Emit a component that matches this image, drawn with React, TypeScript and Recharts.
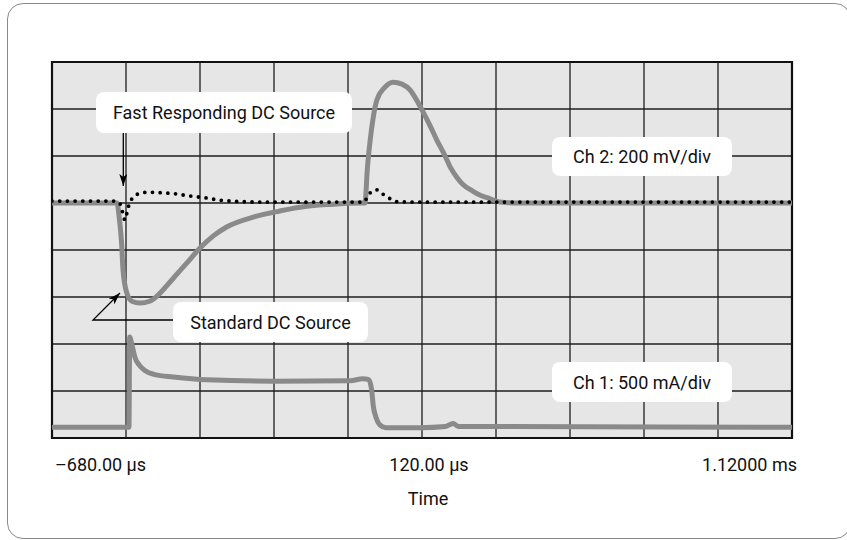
import React from 'react';
import { LineChart, Line, XAxis, YAxis, CartesianGrid, ReferenceArea } from 'recharts';

const FONT = 'Roboto, "Liberation Sans", Arial, sans-serif';

// scope screen: 10 time divisions, 8 amplitude divisions
const X_MAX = 10;
const Y_MAX = 8;
const xDivs = [0, 1, 2, 3, 4, 5, 6, 7, 8, 9, 10];
const yDivs = [0, 1, 2, 3, 4, 5, 6, 7, 8];
const xTickLabels: Record<number, string> = { 0: '–680.00 µs', 5: '120.00 µs', 10: '1.12000 ms' };

// Ch 2, standard DC source (output voltage)
const standardTime = [0, 0.88, 0.905, 0.94, 0.96, 1.01, 1.08, 1.19, 1.32, 1.39, 1.64, 1.82, 2.0, 2.18, 2.36, 2.72, 3.08, 3.35, 3.76, 4.19,
  4.23, 4.26, 4.3, 4.34, 4.39, 4.49, 4.61, 4.73, 4.84, 4.92, 5.0, 5.11, 5.2, 5.3, 5.38, 5.47, 5.55, 5.68, 5.78, 5.92, 6.05, 6.32, 10];
const standardLevel = [5.0, 5.0, 4.74, 4.15, 3.57, 3.09, 2.91, 2.87, 2.91, 2.98, 3.4, 3.72, 4.04, 4.3, 4.49, 4.7, 4.83, 4.91, 4.97, 5.0,
  5.0, 5.7, 6.34, 6.81, 7.19, 7.45, 7.57, 7.53, 7.4, 7.21, 6.98, 6.64, 6.34, 6.04, 5.77, 5.55, 5.4, 5.26, 5.17, 5.09, 5.02, 5.0, 5.0];

// Ch 2, fast responding DC source (output voltage)
const fastTime = [0, 0.85, 0.92, 0.95, 0.97, 0.99, 1.01, 1.04, 1.09, 1.16, 1.3, 1.46, 1.64, 1.86, 2.07, 2.27, 2.54, 2.81,
  4.22, 4.26, 4.31, 4.39, 4.47, 4.57, 4.66, 4.84, 10];
const fastLevel = [5.04, 5.04, 4.98, 4.83, 4.68, 4.64, 4.77, 4.96, 5.11, 5.19, 5.23, 5.22, 5.2, 5.15, 5.11, 5.06, 5.03, 5.02,
  5.02, 5.13, 5.23, 5.28, 5.19, 5.09, 5.03, 5.02, 5.02];

// Ch 1, load current
const currentTime = [0, 1.04, 1.05, 1.08, 1.12, 1.18, 1.26, 1.39, 1.64, 2.09, 2.99, 4.03, 4.2, 4.28, 4.32, 4.34, 4.38, 4.43, 4.51,
  4.97, 5.32, 5.42, 5.49, 10];
const currentLevel = [0.23, 0.23, 2.15, 1.98, 1.72, 1.55, 1.43, 1.35, 1.3, 1.24, 1.21, 1.22, 1.26, 1.24, 1.02, 0.7, 0.43, 0.28, 0.22,
  0.22, 0.245, 0.31, 0.245, 0.23];

const toPoints = (xs: number[], ys: number[]) => xs.map((x, i) => ({ x, y: ys[i] }));

const standardData = toPoints(standardTime, standardLevel);
const fastData = toPoints(fastTime, fastLevel);
const currentData = toPoints(currentTime, currentLevel);

const TimeTick = (props: any) => {
  const { x, y, payload } = props;
  const label = xTickLabels[payload.value];
  if (!label) return null;
  const anchor = payload.value === 0 ? 'start' : payload.value === 10 ? 'end' : 'middle';
  const dx = payload.value === 0 ? 3 : payload.value === 10 ? 5 : 7;
  return (
    <text x={x + dx} y={y} dy={33} textAnchor={anchor} fontFamily={FONT} fontSize={18} fill="#111">
      {label}
    </text>
  );
};

const Callout = ({ x, y, w, h, text }: { x: number; y: number; w: number; h: number; text: string }) => (
  <g>
    <rect x={x} y={y} width={w} height={h} rx={8} fill="#fff" />
    <text x={x + w / 2} y={y + h / 2 + 6.5} textAnchor="middle" fontFamily={FONT} fontSize={18} fill="#111">
      {text}
    </text>
  </g>
);

export default function App() {
  return (
    <div style={{ position: 'absolute', left: 0, top: 0, width: 847, height: 540, background: '#fff', overflow: 'hidden' }}>
      <div style={{
        position: 'absolute', left: 7, top: 3, width: 842, height: 534,
        border: '1.5px solid #8a8a8a', borderRadius: 16,
      }} />
      <div style={{ position: 'absolute', left: 0, top: 0 }}>
        <LineChart width={847} height={540} margin={{ top: 62, right: 55, bottom: 32, left: 52 }}>
          <CartesianGrid
            fill="#e6e6e6"
            fillOpacity={1}
            stroke="#1e1e1e"
            strokeWidth={1.3}
            verticalCoordinatesGenerator={({ offset }: any) =>
              xDivs.map((v) => offset.left + (offset.width * v) / X_MAX)}
            horizontalCoordinatesGenerator={({ offset }: any) =>
              yDivs.map((v) => offset.top + offset.height * (1 - v / Y_MAX))}
          />
          <XAxis
            dataKey="x"
            type="number"
            domain={[0, X_MAX]}
            ticks={xDivs}
            allowDataOverflow
            axisLine={false}
            tickLine={false}
            tickSize={0}
            tickMargin={0}
            height={70}
            interval={0}
            tick={<TimeTick />}
          />
          <YAxis type="number" domain={[0, Y_MAX]} ticks={yDivs} width={0} axisLine={false} tickLine={false} tick={false} />
          <ReferenceArea x1={0} x2={X_MAX} y1={0} y2={Y_MAX} fill="none" stroke="#111" strokeWidth={2.2} />
          <Line data={currentData} dataKey="y" type="monotone" stroke="#8a8a8a" strokeWidth={5} dot={false} isAnimationActive={false} />
          <Line data={standardData} dataKey="y" type="monotone" stroke="#8a8a8a" strokeWidth={5} dot={false} isAnimationActive={false} />
          <Line data={fastData} dataKey="y" type="monotone" stroke="#000" strokeWidth={3.8} strokeDasharray="0 7.7"
            strokeLinecap="round" dot={false} isAnimationActive={false} />
        </LineChart>
      </div>
      <svg width={847} height={540} style={{ position: 'absolute', left: 0, top: 0, pointerEvents: 'none' }}>
        <defs>
          <marker id="head" viewBox="0 0 12 8" refX={12} refY={4} markerWidth={12} markerHeight={8}
            markerUnits="userSpaceOnUse" orient="auto">
            <path d="M0,0 L12,4 L0,8 L3,4 Z" fill="#000" />
          </marker>
        </defs>
        <Callout x={96} y={92} w={256} h={41} text="Fast Responding DC Source" />
        <Callout x={173} y={302} w={195} h={40} text="Standard DC Source" />
        <Callout x={552} y={137} w={180} h={39} text="Ch 2: 200 mV/div" />
        <Callout x={552} y={362} w={180} h={40} text="Ch 1: 500 mA/div" />
        <line x1={123.3} y1={133} x2={123.3} y2={186} stroke="#000" strokeWidth={1.3} markerEnd="url(#head)" />
        <polyline points="173,320 93,320 120,293" fill="none" stroke="#000" strokeWidth={1.3} markerEnd="url(#head)" />
        <text x={428} y={505} textAnchor="middle" fontFamily={FONT} fontSize={18} fill="#111">Time</text>
      </svg>
    </div>
  );
}
